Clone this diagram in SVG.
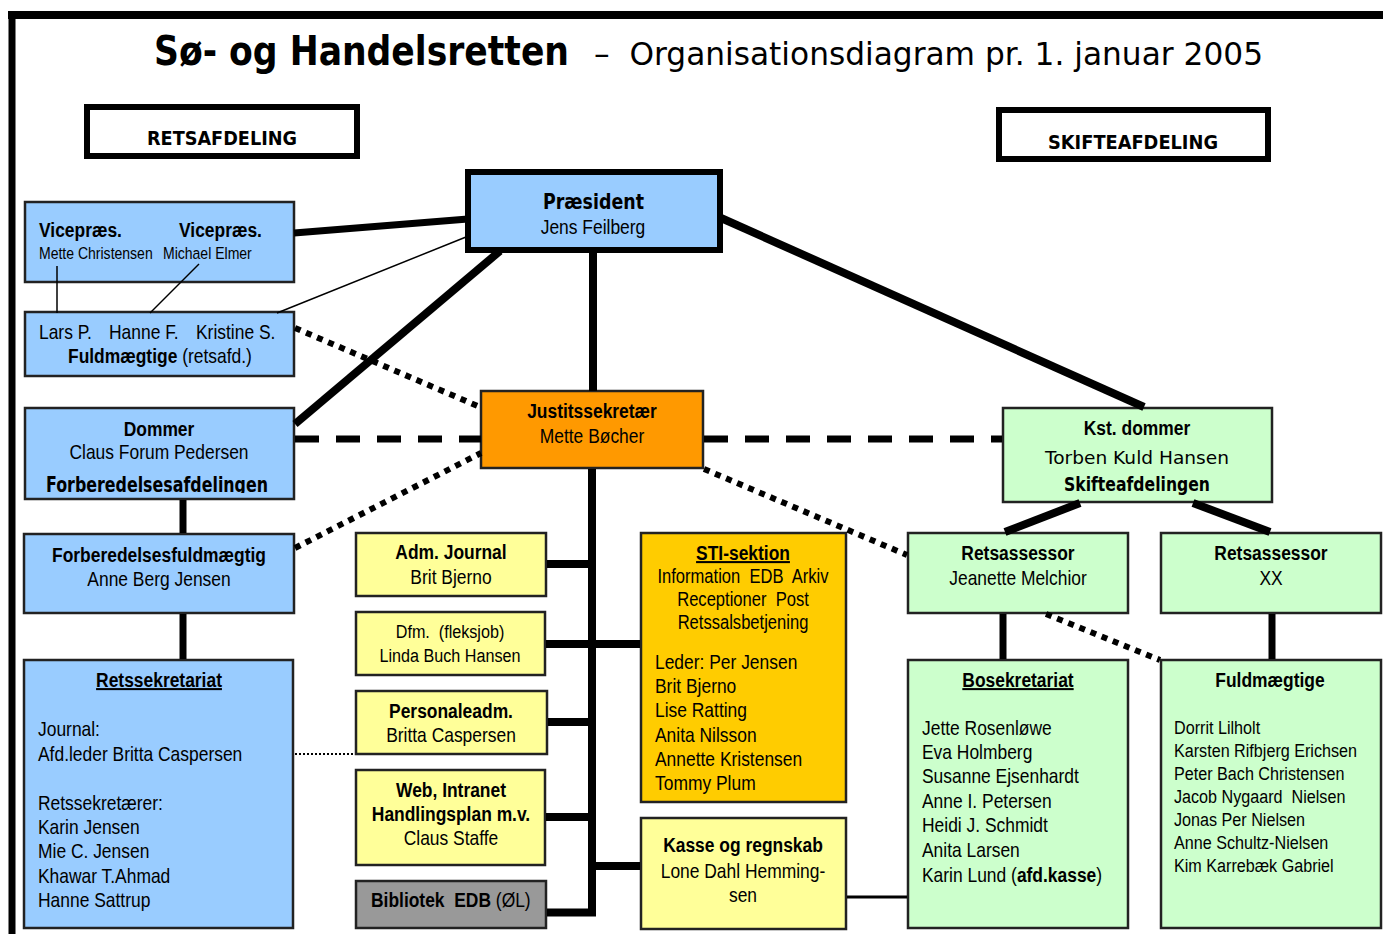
<svg xmlns="http://www.w3.org/2000/svg" width="1383" height="934" viewBox="0 0 1383 934" xml:space="preserve">
<style>
.n{font-family:"Liberation Sans",Arial,sans-serif;font-size:20.5px;fill:#000;white-space:pre}
.s{font-size:16.5px}
.s19{font-size:19px}
.s195{font-size:19.5px}
.b{font-weight:bold}
.m{text-anchor:middle}
.u{text-decoration:underline}
.t{font-family:"DejaVu Sans",Verdana,sans-serif;fill:#000;white-space:pre}
.box{stroke:#222;stroke-width:2.5}
.blue{fill:#99CCFF}
.green{fill:#CCFFCC}
.yel{fill:#FFFF99}
.org{fill:#FF9900}
.gold{fill:#FFCC00}
.grey{fill:#999999}
.thick{stroke:#000;stroke-width:8;fill:none}
.mid{stroke:#000;stroke-width:7;fill:none}
.thin{stroke:#000;stroke-width:1.5;fill:none}
.dash{stroke:#000;stroke-width:7;stroke-dasharray:24 17;fill:none}
.dot{stroke:#000;stroke-width:6;stroke-dasharray:6 6;fill:none}
.fdot{stroke:#000;stroke-width:2;stroke-dasharray:2 2;fill:none}
</style>
<defs>
<clipPath id="clipF"><rect x="26" y="465" width="266" height="28"/></clipPath>
</defs>
<rect width="1383" height="934" fill="#fff"/>
<g id="frame">
<line x1="8" y1="15" x2="1383" y2="15" stroke="#000" stroke-width="8"/>
<line x1="12" y1="11" x2="12" y2="934" stroke="#000" stroke-width="7"/>
</g>
<g id="title">
<text class="t" font-weight="bold" font-size="40" x="154" y="65" textLength="415" lengthAdjust="spacingAndGlyphs">Sø- og Handelsretten</text>
<text class="t" font-size="32" x="594" y="65" textLength="669" lengthAdjust="spacingAndGlyphs">–  Organisationsdiagram pr. 1. januar 2005</text>
</g>
<g id="retsafdeling">
<rect x="87" y="107" width="270" height="49" fill="#fff" stroke="#000" stroke-width="6"/>
<text class="t" font-weight="bold" font-size="20" x="147" y="145" textLength="150" lengthAdjust="spacingAndGlyphs">RETSAFDELING</text>
</g>
<g id="skifteafdeling">
<rect x="999" y="110" width="269" height="49" fill="#fff" stroke="#000" stroke-width="6"/>
<text class="t" font-weight="bold" font-size="20" x="1048" y="149" textLength="170" lengthAdjust="spacingAndGlyphs">SKIFTEAFDELING</text>
</g>
<g id="praesident">
<rect x="468" y="172" width="252" height="78" class="blue" stroke="#000" stroke-width="6"/>
<text class="t" font-weight="bold" font-size="22" x="543" y="209" textLength="101" lengthAdjust="spacingAndGlyphs">Præsident</text>
<text class="n m" transform="translate(593,234) scale(.85 1)">Jens Feilberg</text>
</g>
<g id="vicepraes">
<rect x="25" y="202" width="269" height="80" class="box blue"/>
<text class="n b" transform="translate(39,237) scale(.85 1)">Vicepræs.</text>
<text class="n b" transform="translate(179,237) scale(.85 1)">Vicepræs.</text>
<text class="n s" transform="translate(39,259) scale(.85 1)">Mette Christensen</text>
<text class="n s" transform="translate(163,259) scale(.85 1)">Michael Elmer</text>
</g>
<g id="fuldmaegtige-ret">
<rect x="25" y="312" width="269" height="64" class="box blue"/>
<text class="n" transform="translate(39,339) scale(.85 1)">Lars P.</text>
<text class="n" transform="translate(109,339) scale(.85 1)">Hanne F.</text>
<text class="n" transform="translate(196,339) scale(.85 1)">Kristine S.</text>
<text class="n" transform="translate(68,363) scale(.85 1)"><tspan font-weight="bold">Fuldmægtige</tspan> (retsafd.)</text>
</g>
<g id="dommer">
<rect x="25" y="408" width="269" height="91" class="box blue"/>
<text class="n b m" transform="translate(159,436) scale(.85 1)">Dommer</text>
<text class="n m" transform="translate(159,459) scale(.85 1)">Claus Forum Pedersen</text>
<text class="t" font-weight="bold" font-size="21" x="46" y="492" textLength="222" lengthAdjust="spacingAndGlyphs" clip-path="url(#clipF)">Forberedelsesafdelingen</text>
</g>
<g id="forberedelsesfuldmaegtig">
<rect x="24" y="534" width="270" height="79" class="box blue"/>
<text class="n b m" transform="translate(159,562) scale(.85 1)">Forberedelsesfuldmægtig</text>
<text class="n m" transform="translate(159,586) scale(.85 1)">Anne Berg Jensen</text>
</g>
<g id="retssekretariat">
<rect x="24" y="660" width="269" height="268" class="box blue"/>
<text class="n b m u" transform="translate(159,687) scale(.85 1)">Retssekretariat</text>
<text class="n" transform="translate(38,736) scale(.85 1)">Journal:</text>
<text class="n" transform="translate(38,761) scale(.85 1)">Afd.leder Britta Caspersen</text>
<text class="n" transform="translate(38,810) scale(.85 1)">Retssekretærer:</text>
<text class="n" transform="translate(38,834) scale(.85 1)">Karin Jensen</text>
<text class="n" transform="translate(38,858) scale(.85 1)">Mie C. Jensen</text>
<text class="n" transform="translate(38,883) scale(.85 1)">Khawar T.Ahmad</text>
<text class="n" transform="translate(38,907) scale(.85 1)">Hanne Sattrup</text>
</g>
<g id="justitssekretaer">
<rect x="481" y="391" width="222" height="77" class="box org"/>
<text class="n b m" transform="translate(592,418) scale(.85 1)">Justitssekretær</text>
<text class="n m" transform="translate(592,443) scale(.85 1)">Mette Bøcher</text>
</g>
<g id="adm-journal">
<rect x="356" y="533" width="190" height="63" class="box yel"/>
<text class="n b m" transform="translate(451,559) scale(.85 1)">Adm. Journal</text>
<text class="n m" transform="translate(451,584) scale(.85 1)">Brit Bjerno</text>
</g>
<g id="dfm">
<rect x="356" y="612" width="189" height="63" class="box yel"/>
<text class="n s19 m" transform="translate(450,638) scale(.85 1)">Dfm.  (fleksjob)</text>
<text class="n s19 m" transform="translate(450,662) scale(.85 1)">Linda Buch Hansen</text>
</g>
<g id="personaleadm">
<rect x="356" y="691" width="191" height="63" class="box yel"/>
<text class="n b m" transform="translate(451,718) scale(.85 1)">Personaleadm.</text>
<text class="n m" transform="translate(451,742) scale(.85 1)">Britta Caspersen</text>
</g>
<g id="web">
<rect x="356" y="770" width="189" height="95" class="box yel"/>
<text class="n b m" transform="translate(451,797) scale(.85 1)">Web, Intranet</text>
<text class="n b m" transform="translate(451,821) scale(.85 1)">Handlingsplan m.v.</text>
<text class="n m" transform="translate(451,845) scale(.85 1)">Claus Staffe</text>
</g>
<g id="bibliotek">
<rect x="356" y="881" width="190" height="47" class="box grey"/>
<text class="n" transform="translate(371,907) scale(.85 1)"><tspan font-weight="bold">Bibliotek  EDB</tspan> (ØL)</text>
</g>
<g id="sti-sektion">
<rect x="641" y="533" width="205" height="269" class="box gold"/>
<text class="n b m u" transform="translate(743,560) scale(.85 1)">STI-sektion</text>
<text class="n s195 m" transform="translate(743,583) scale(.85 1)">Information  EDB  Arkiv</text>
<text class="n s195 m" transform="translate(743,606) scale(.85 1)">Receptioner  Post</text>
<text class="n s195 m" transform="translate(743,629) scale(.85 1)">Retssalsbetjening</text>
<text class="n" transform="translate(655,669) scale(.85 1)">Leder: Per Jensen</text>
<text class="n" transform="translate(655,693) scale(.85 1)">Brit Bjerno</text>
<text class="n" transform="translate(655,717) scale(.85 1)">Lise Ratting</text>
<text class="n" transform="translate(655,742) scale(.85 1)">Anita Nilsson</text>
<text class="n" transform="translate(655,766) scale(.85 1)">Annette Kristensen</text>
<text class="n" transform="translate(655,790) scale(.85 1)">Tommy Plum</text>
</g>
<g id="kasse">
<rect x="641" y="818" width="205" height="111" class="box yel"/>
<text class="n b m" transform="translate(743,852) scale(.85 1)">Kasse og regnskab</text>
<text class="n m" transform="translate(743,878) scale(.85 1)">Lone Dahl Hemming-</text>
<text class="n m" transform="translate(743,902) scale(.85 1)">sen</text>
</g>
<g id="kst-dommer">
<rect x="1003" y="408" width="269" height="94" class="box green"/>
<text class="n b m" transform="translate(1137,435) scale(.85 1)">Kst. dommer</text>
<text class="t" font-size="17.5" x="1045" y="464" textLength="184" lengthAdjust="spacingAndGlyphs">Torben Kuld Hansen</text>
<text class="t" font-weight="bold" font-size="20" x="1064" y="491" textLength="146" lengthAdjust="spacingAndGlyphs">Skifteafdelingen</text>
</g>
<g id="retsassessor-1">
<rect x="908" y="533" width="220" height="80" class="box green"/>
<text class="n b m" transform="translate(1018,560) scale(.85 1)">Retsassessor</text>
<text class="n m" transform="translate(1018,585) scale(.85 1)">Jeanette Melchior</text>
</g>
<g id="retsassessor-2">
<rect x="1161" y="533" width="220" height="80" class="box green"/>
<text class="n b m" transform="translate(1271,560) scale(.85 1)">Retsassessor</text>
<text class="n m" transform="translate(1271,585) scale(.85 1)">XX</text>
</g>
<g id="bosekretariat">
<rect x="908" y="660" width="220" height="268" class="box green"/>
<text class="n b m u" transform="translate(1018,687) scale(.85 1)">Bosekretariat</text>
<text class="n" transform="translate(922,735) scale(.85 1)">Jette Rosenløwe</text>
<text class="n" transform="translate(922,759) scale(.85 1)">Eva Holmberg</text>
<text class="n" transform="translate(922,783) scale(.85 1)">Susanne Ejsenhardt</text>
<text class="n" transform="translate(922,808) scale(.85 1)">Anne I. Petersen</text>
<text class="n" transform="translate(922,832) scale(.85 1)">Heidi J. Schmidt</text>
<text class="n" transform="translate(922,857) scale(.85 1)">Anita Larsen</text>
<text class="n" transform="translate(922,882) scale(.85 1)">Karin Lund (<tspan font-weight="bold">afd.kasse</tspan>)</text>
</g>
<g id="fuldmaegtige-skifte">
<rect x="1161" y="660" width="220" height="268" class="box green"/>
<text class="n b m" transform="translate(1270,687) scale(.85 1)">Fuldmægtige</text>
<text class="n s19" transform="translate(1174,734) scale(.85 1)">Dorrit Lilholt</text>
<text class="n s19" transform="translate(1174,757) scale(.85 1)">Karsten Rifbjerg Erichsen</text>
<text class="n s19" transform="translate(1174,780) scale(.85 1)">Peter Bach Christensen</text>
<text class="n s19" transform="translate(1174,803) scale(.85 1)">Jacob Nygaard  Nielsen</text>
<text class="n s19" transform="translate(1174,826) scale(.85 1)">Jonas Per Nielsen</text>
<text class="n s19" transform="translate(1174,849) scale(.85 1)">Anne Schultz-Nielsen</text>
<text class="n s19" transform="translate(1174,872) scale(.85 1)">Kim Karrebæk Gabriel</text>
</g>
<g id="connectors">
<line class="mid" x1="294" y1="233" x2="468" y2="219"/>
<line class="thin" x1="277" y1="313" x2="466" y2="237"/>
<line class="thin" x1="57" y1="266" x2="57" y2="313"/>
<line class="thin" x1="199" y1="264" x2="150" y2="313"/>
<line class="thick" x1="500" y1="251" x2="295" y2="424"/>
<line class="thick" x1="593" y1="253" x2="593" y2="391"/>
<line class="thick" x1="721" y1="218" x2="1144" y2="407"/>
<line class="dash" x1="295" y1="439" x2="481" y2="439"/>
<line class="dash" x1="704" y1="439" x2="1002" y2="439"/>
<line class="dot" x1="295" y1="328" x2="480" y2="407"/>
<line class="dot" x1="295" y1="548" x2="481" y2="453"/>
<line class="dot" x1="704" y1="469" x2="907" y2="555"/>
<line class="dot" x1="1046" y1="614" x2="1160" y2="660"/>
<line class="mid" x1="183" y1="500" x2="183" y2="533"/>
<line class="mid" x1="183" y1="614" x2="183" y2="659"/>
<path class="thick" d="M592 469 V912.5 H547"/>
<line class="thick" x1="547" y1="564" x2="592" y2="564"/>
<line class="thick" x1="546" y1="644" x2="640" y2="644"/>
<line class="thick" x1="548" y1="722" x2="592" y2="722"/>
<line class="thick" x1="546" y1="817" x2="592" y2="817"/>
<line class="thick" x1="592" y1="866" x2="640" y2="866"/>
<line x1="847" y1="897" x2="907" y2="897" stroke="#000" stroke-width="3"/>
<line class="fdot" x1="295" y1="754" x2="355" y2="754"/>
<line class="thick" x1="1080" y1="503" x2="1005" y2="532"/>
<line class="thick" x1="1193" y1="503" x2="1270" y2="532"/>
<line class="mid" x1="1003" y1="614" x2="1003" y2="659"/>
<line class="mid" x1="1272" y1="614" x2="1272" y2="659"/>
</g>
</svg>
